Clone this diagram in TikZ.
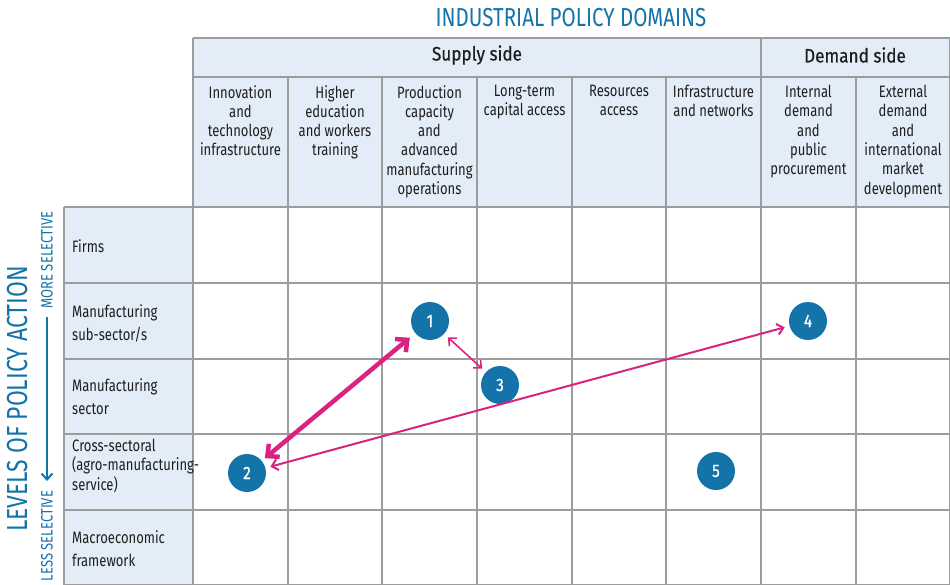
\documentclass[tikz,border=0pt]{standalone}
\usepackage{fontspec}
\setmainfont{Fira Sans}[FakeStretch=0.79]
\newfontfamily\headfont{Fira Sans}[FakeStretch=0.88,FakeBold=0.5]
\newfontfamily\numfont{Fira Sans}[FakeStretch=0.85,FakeBold=0.8]
\usetikzlibrary{arrows.meta}
\definecolor{blu}{HTML}{1473A8}
\definecolor{mag}{HTML}{D9237F}
\definecolor{cellbg}{HTML}{E3EDF8}
\definecolor{gridc}{HTML}{9C9C9C}
\definecolor{txt}{HTML}{1E1E1E}
\begin{document}
\begin{tikzpicture}[x=1pt,y=-1pt,
  gridline/.style={draw=gridc,line width=1.3pt},
  colhead/.style={anchor=north,align=center,inner sep=0pt,font=\fontsize{16.5}{19.3}\selectfont,text=txt},
  sidehead/.style={inner sep=0pt,font=\headfont\fontsize{19.5}{20}\selectfont,text=txt},
  rowlab/.style={anchor=west,align=left,inner sep=0pt,font=\fontsize{16.5}{23}\selectfont,text=txt},
  num/.style={circle,fill=blu,minimum size=38pt,inner sep=0pt,text=white,font=\numfont\fontsize{18}{18}\selectfont},
  link/.style={draw=mag,line width=2pt,{Straight Barb[length=6pt,width=11pt]}-{Straight Barb[length=6pt,width=11pt]},shorten <=5pt,shorten >=5pt},
  biglink/.style={draw=mag,line width=4.5pt,{Straight Barb[length=9pt,width=17pt]}-{Straight Barb[length=9pt,width=17pt]},shorten <=7pt,shorten >=4pt},
  bluetitle/.style={inner sep=0pt,text=blu,font=\fontsize{26}{26}\selectfont},
  bluesmall/.style={inner sep=0pt,text=blu,font=\fontsize{16.5}{16.5}\selectfont,rotate=90}]
\useasboundingbox (0,0) rectangle (950,585);
% backgrounds
\fill[cellbg] (193,38) rectangle (950,207);
\fill[cellbg] (64,207) rectangle (193,585);
% grid
\draw[gridline] (193,38) -- (950,38);
\draw[gridline] (193,77) -- (950,77);
\foreach \yy in {207,283,359,434,510,585} \draw[gridline] (64,\yy) -- (950,\yy);
\draw[gridline] (64,207) -- (64,585);
\draw[gridline] (193,38) -- (193,585);
\draw[gridline] (761,38) -- (761,585);
\draw[gridline] (949.3,38) -- (949.3,585);
\foreach \xx in {288,382,477,572,666,856} \draw[gridline] (\xx,77) -- (\xx,585);
% titles
\node[bluetitle] (ttl) at (571,18) {INDUSTRIAL POLICY DOMAINS};
\node[bluetitle,font=\fontsize{29}{29}\selectfont,rotate=90] (lvl) at (18,399) {LEVELS OF POLICY ACTION};
\node[bluesmall] (more) at (47,260) {MORE SELECTIVE};
\node[bluesmall] (less) at (47,536) {LESS SELECTIVE};
\coordinate (arrtop) at (47,317);
\coordinate (arrbot) at (47,481);
\draw[draw=blu,line width=2pt,-{Straight Barb[length=6pt,width=11pt]}] (arrtop) -- (arrbot);
% side heads
\node[sidehead] (supply) at (477,55) {Supply side};
\node[sidehead] (demand) at (855,55) {Demand side};
% column heads
\node[colhead] (c1) at (240.5,85) {Innovation\\and\\technology\\infrastructure};
\node[colhead] (c2) at (335,85) {Higher\\education\\and workers\\training};
\node[colhead] (c3) at (429.5,85) {Production\\capacity\\and\\advanced\\manufacturing\\operations};
\node[colhead] (c4) at (524.5,85) {Long-term\\capital access};
\node[colhead] (c5) at (619,85) {Resources\\access};
\node[colhead] (c6) at (713.5,85) {Infrastructure\\and networks};
\node[colhead] (c7) at (808.5,85) {Internal\\demand\\and\\public\\procurement};
\node[colhead] (c8) at (903,85) {External\\demand\\and\\international\\market\\development};
% row labels
\node[rowlab] (r1) at (72,246) {Firms};
\node[rowlab] (r2) at (72,323) {Manufacturing\\sub-sector/s};
\node[rowlab] (r3) at (72,397) {Manufacturing\\sector};
\node[rowlab,font=\fontsize{16.5}{19.5}\selectfont] (r4) at (72,466) {Cross-sectoral\\(agro-manufacturing-\\service)};
\node[rowlab] (r5) at (72,549) {Macroeconomic\\framework};
% numbered circles
\node[num] (n1) at (430,321) {1};
\node[num] (n2) at (247,473) {2};
\node[num] (n3) at (500,385) {3};
\node[num] (n4) at (808,321) {4};
\node[num] (n5) at (716,471) {5};
% connectors
\draw[biglink] (n1) -- (n2);
\draw[link,line width=1.6pt] (n1) -- (n3);
\draw[link] (n2) -- (n4);
\end{tikzpicture}
\end{document}
